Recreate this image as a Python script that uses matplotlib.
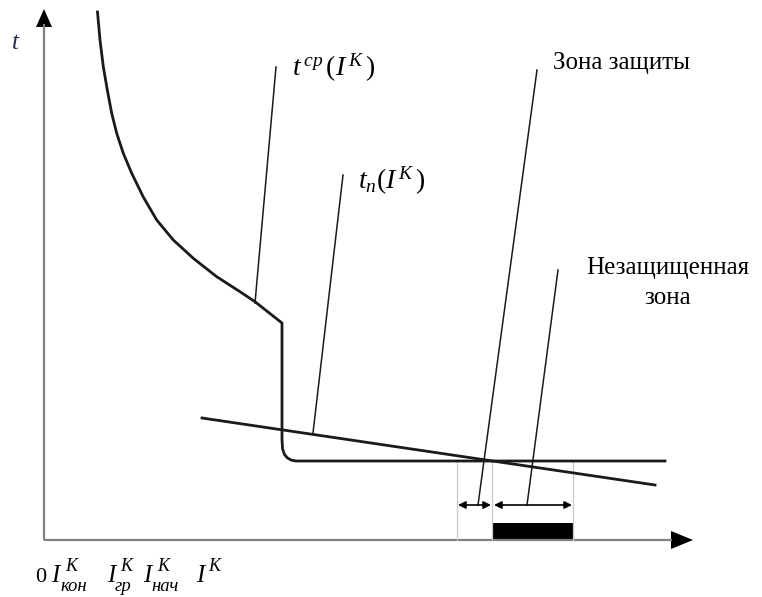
import matplotlib
matplotlib.use("Agg")
import matplotlib.pyplot as plt
from matplotlib.patches import Rectangle, Polygon

plt.rcParams['mathtext.fontset'] = 'custom'
plt.rcParams['mathtext.rm'] = 'Liberation Serif'
plt.rcParams['mathtext.it'] = 'Liberation Serif:italic'
plt.rcParams['font.family'] = ['Liberation Serif', 'DejaVu Sans']

# --- schematic data (in drawing units) ---
# time-current characteristic of the protection t^cp(I^K)
tcp_x = [97.5, 100, 103.3, 107.3, 111.7, 116.7, 123.3, 131.7, 143.3, 156.7,
         173.3, 193.3, 216.7, 240, 255, 282,
         282, 282.6, 284.5, 287.5, 291.5, 296, 300, 665]
tcp_y = [12, 40, 66.7, 90, 113.3, 133.3, 153.3, 173.3, 197, 220,
         240, 258.3, 276.7, 291.7, 301.7, 323,
         440, 449, 454.5, 458, 460.2, 461, 461, 461]
# line t_n(I^K)
tn_x = [202, 655]
tn_y = [418, 485]
# leader lines (bottom point, top point)
leaders = [((255, 303), (276, 67)),
           ((313, 433), (343, 175)),
           ((478, 505), (537, 70)),
           ((527, 505), (558, 270))]
# zone boundaries
zone_x = [457, 492, 573]
zone_top = 461
arrow_y = 505
axis_y0 = 540
axis_x0 = 44

# current axis labels: subscripts and their x positions
cur_subs = ['кон', 'гр', 'нач', '']
cur_I_x = [51, 107, 143, 196]
cur_K_dx = [14, 13, 14, 12]
cur_sub_dx = [9, 8, 8, 0]

fig = plt.figure(figsize=(7.62, 5.97), dpi=100)
ax = fig.add_axes([0, 0, 1, 1])
ax.set_xlim(0, 762)
ax.set_ylim(597, 0)
ax.axis('off')

# axes
ax.plot([axis_x0, axis_x0], [axis_y0, 24], color='#808080', lw=1.6, solid_capstyle='butt')
ax.plot([axis_x0, 672], [axis_y0, axis_y0], color='#808080', lw=1.6, solid_capstyle='butt')
ax.add_patch(Polygon([[axis_x0, 9], [axis_x0 - 8, 27], [axis_x0 + 8, 27]],
                     closed=True, color='black', lw=0))
ax.add_patch(Polygon([[693, axis_y0], [671, axis_y0 - 9], [671, axis_y0 + 9]],
                     closed=True, color='black', lw=0))

# thin vertical zone boundaries
for xv in zone_x:
    ax.plot([xv, xv], [zone_top, axis_y0], color='#c8c8c8', lw=0.9)

# characteristic curves
ax.plot(tcp_x, tcp_y, color='#1a1a1a', lw=2.0, solid_joinstyle='round')
ax.plot(tn_x, tn_y, color='#1a1a1a', lw=2.0)

# leader lines
for (x0, y0), (x1, y1) in leaders:
    ax.plot([x0, x1], [y0, y1], color='#1a1a1a', lw=1.1)

# double arrows
ap = dict(arrowstyle='<|-|>', color='black', lw=1.2, mutation_scale=11,
          shrinkA=0, shrinkB=0)
ax.annotate('', xy=(zone_x[0] + 1, arrow_y), xytext=(zone_x[1] - 1, arrow_y), arrowprops=ap)
ax.annotate('', xy=(zone_x[1] + 2, arrow_y), xytext=(zone_x[2] - 1, arrow_y), arrowprops=ap)

# unprotected zone bar
ax.add_patch(Rectangle((zone_x[1], 523), zone_x[2] - zone_x[1], axis_y0 - 523,
                       color='black', lw=0))

# labels
ax.text(12, 49, 't', fontsize=18, fontstyle='italic', color='#1f2d55',
        va='baseline', ha='left')
ax.text(292, 68, r'$t^{\,ср}\,(I^{\,K}\,)$', fontsize=20, va='center', ha='left')
ax.text(358, 181, r'$t_{n}(I^{\,K}\,)$', fontsize=20, va='center', ha='left')
ax.text(553, 63, 'Зона защиты', fontsize=18, va='center', ha='left')
ax.text(668, 268, 'Незащищенная', fontsize=18, va='center', ha='center')
ax.text(668, 298, 'зона', fontsize=18, va='center', ha='center')

ax.text(35, 582, '0', fontsize=16, va='baseline', ha='left')
for sub, xi, kdx, sdx in zip(cur_subs, cur_I_x, cur_K_dx, cur_sub_dx):
    ax.text(xi, 582, 'I', fontsize=18, fontstyle='italic', va='baseline', ha='left')
    ax.text(xi + kdx, 571, 'K', fontsize=13, fontstyle='italic', va='baseline', ha='left')
    if sub:
        ax.text(xi + sdx, 591, sub, fontsize=13.5, fontstyle='italic', va='baseline', ha='left')

fig.savefig('out.png', dpi=100)
